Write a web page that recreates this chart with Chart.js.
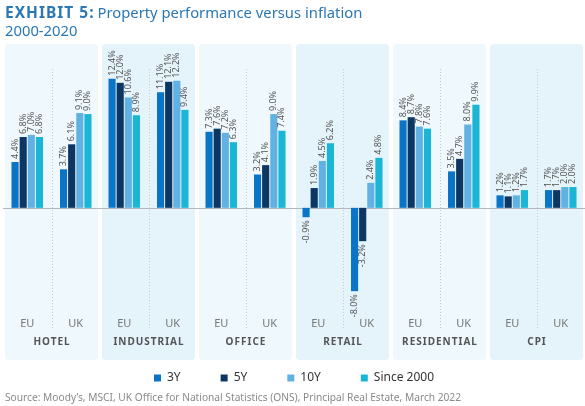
<!DOCTYPE html>
<html>
<head>
<meta charset="utf-8">
<script src="https://cdn.jsdelivr.net/npm/chart.js@4"></script>
<style>
  html, body { margin: 0; padding: 0; background: #ffffff; }
  #wrap { width: 585px; height: 406px; position: relative; }
</style>
</head>
<body>
<div id="wrap"><canvas id="myChart" width="585" height="406"></canvas></div>
<script>
// chart data
const categories = ['EU', 'UK', 'EU', 'UK', 'EU', 'UK', 'EU', 'UK', 'EU', 'UK', 'EU', 'UK'];
const sectors = ['HOTEL', 'INDUSTRIAL', 'OFFICE', 'RETAIL', 'RESIDENTIAL', 'CPI'];
const seriesNames = ['3Y', '5Y', '10Y', 'Since 2000'];
const threeYear = [4.4, 3.7, 12.4, 11.1, 7.3, 3.2, -0.9, -8.0, 8.4, 3.5, 1.2, 1.7];
const fiveYear = [6.8, 6.1, 12.0, 12.1, 7.6, 4.1, 1.9, -3.2, 8.7, 4.7, 1.1, 1.7];
const tenYear = [7.0, 9.1, 10.6, 12.2, 7.2, 9.0, 4.5, 2.4, 7.8, 8.0, 1.2, 2.0];
const since2000 = [6.8, 9.0, 8.9, 9.4, 6.3, 7.4, 6.2, 4.8, 7.6, 9.9, 1.7, 2.0];

const colors = ['#0a74c7', '#0c3763', '#62b1e3', '#1bb5d6'];
const FONT = '"Noto Sans", "Open Sans", sans-serif';

// panels behind each sector, dotted divider, zero line
const panelPlugin = {
    id: 'panels',
    beforeDraw(chart) {
        const ctx = chart.ctx;
        const x = chart.scales.x;
        const catW = x.getPixelForValue(1) - x.getPixelForValue(0);
        ctx.save();
        sectors.forEach((s, i) => {
            const left = x.getPixelForValue(2 * i) - catW / 2 + 2;
            const right = x.getPixelForValue(2 * i + 1) + catW / 2 - 2;
            ctx.fillStyle = i % 2 === 0 ? '#eef8fd' : '#e5f3fb';
            ctx.beginPath();
            ctx.roundRect(left, 44, right - left, 316, 4);
            ctx.fill();
            // dotted line between EU and UK
            const mid = (x.getPixelForValue(2 * i) + x.getPixelForValue(2 * i + 1)) / 2;
            ctx.strokeStyle = '#c4c8cc';
            ctx.lineWidth = 1;
            ctx.setLineDash([1, 2]);
            ctx.beginPath();
            ctx.moveTo(Math.round(mid) + 0.5, 69);
            ctx.lineTo(Math.round(mid) + 0.5, 330);
            ctx.stroke();
            ctx.setLineDash([]);
            // sector name
            ctx.fillStyle = '#555';
            ctx.font = 'bold 10px ' + FONT;
            if ('letterSpacing' in ctx) ctx.letterSpacing = '1px';
            ctx.textAlign = 'center';
            ctx.textBaseline = 'middle';
            ctx.fillText(s, (left + right) / 2 + 0.5, 342);
            if ('letterSpacing' in ctx) ctx.letterSpacing = '0px';
        });
        // title
        ctx.textAlign = 'left';
        ctx.textBaseline = 'alphabetic';
        ctx.fillStyle = '#2b78b5';
        ctx.font = 'bold 15.5px ' + FONT;
        if ('letterSpacing' in ctx) ctx.letterSpacing = '1px';
        ctx.fillText('EXHIBIT 5:', 5, 18);
        const w = ctx.measureText('EXHIBIT 5:').width;
        if ('letterSpacing' in ctx) ctx.letterSpacing = '0px';
        ctx.font = '14.8px ' + FONT;
        ctx.fillText('Property performance versus inflation', 5 + w + 3, 18);
        ctx.fillText('2000-2020', 5, 36);
        // source
        ctx.fillStyle = '#8a8a8a';
        ctx.font = '10.2px ' + FONT;
        ctx.fillText('Source: Moody\u2019s, MSCI, UK Office for National Statistics (ONS), Principal Real Estate, March 2022', 5, 401);
        ctx.restore();
    },
    beforeDatasetsDraw(chart) {
        const ctx = chart.ctx;
        const y0 = Math.round(chart.scales.y.getPixelForValue(0)) + 0.5;
        ctx.save();
        ctx.strokeStyle = '#b4b8bc';
        ctx.lineWidth = 1;
        ctx.beginPath();
        ctx.moveTo(3, y0);
        ctx.lineTo(585, y0);
        ctx.stroke();
        ctx.restore();
    }
};

// rotated value labels on the bars
const labelPlugin = {
    id: 'barLabels',
    afterDatasetsDraw(chart) {
        const ctx = chart.ctx;
        ctx.save();
        ctx.fillStyle = '#555';
        ctx.font = '9px ' + FONT;
        ctx.textBaseline = 'middle';
        chart.data.datasets.forEach((ds, di) => {
            const meta = chart.getDatasetMeta(di);
            meta.data.forEach((bar, i) => {
                const v = ds.data[i];
                const txt = v.toFixed(1) + '%';
                ctx.save();
                ctx.translate(bar.x, v >= 0 ? bar.y - 3 : bar.y + 3);
                ctx.rotate(-Math.PI / 2);
                ctx.textAlign = v >= 0 ? 'left' : 'right';
                ctx.fillText(txt, 0, 0);
                ctx.restore();
            });
        });
        ctx.restore();
    }
};

const chartData = {
    labels: categories,
    datasets: [
        { label: seriesNames[0], data: threeYear, backgroundColor: colors[0] },
        { label: seriesNames[1], data: fiveYear, backgroundColor: colors[1] },
        { label: seriesNames[2], data: tenYear, backgroundColor: colors[2] },
        { label: seriesNames[3], data: since2000, backgroundColor: colors[3] }
    ]
};

const myChart = new Chart(document.getElementById('myChart'), {
    type: 'bar',
    data: chartData,
    options: {
        responsive: false,
        animation: false,
        datasets: {
            bar: { categoryPercentage: 0.67, barPercentage: 0.88 }
        },
        layout: { padding: { top: 62, left: 3, right: 0, bottom: 12 } },
        scales: {
            x: {
                grid: { display: false, drawTicks: false },
                border: { display: false },
                ticks: { color: '#777', font: { family: FONT, size: 11 }, padding: 5 },
                afterFit(scale) { scale.height = 20; }
            },
            y: { display: false, min: -10, max: 14 }
        },
        plugins: {
            legend: {
                position: 'bottom',
                labels: {
                    boxWidth: 7,
                    boxHeight: 7,
                    padding: 40,
                    color: '#333',
                    font: { family: FONT, size: 12 }
                }
            },
            tooltip: { enabled: false }
        }
    },
    plugins: [panelPlugin, labelPlugin]
});
</script>
</body>
</html>
